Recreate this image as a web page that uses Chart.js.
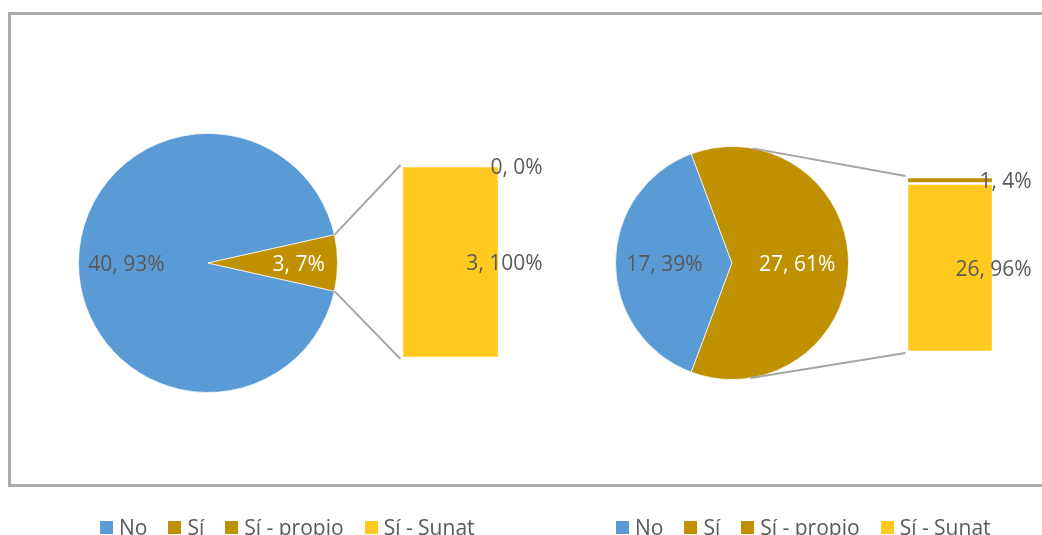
<!DOCTYPE html>
<html>
<head>
<meta charset="utf-8">
<script src="https://cdn.jsdelivr.net/npm/chart.js@4.4.1/dist/chart.umd.min.js"></script>
<style>
  body { margin: 0; background: #fff; width: 1042px; height: 535px; overflow: hidden; position: relative; font-family: "Open Sans", sans-serif; }
  #frame { position: absolute; left: 8px; top: 12px; width: 1100px; height: 469px; border: 3px solid #ababab; }
  canvas { position: absolute; left: 0; top: 0; }
  .legend { position: absolute; top: 513px; display: flex; align-items: center; font-size: 21px; color: #595959; white-space: nowrap; }
  .legend span.item { display: flex; align-items: center; margin-right: 21px; }
  .legend span.box { display: inline-block; width: 13px; height: 13px; margin-right: 6px; }
</style>
</head>
<body>
<div id="frame"></div>

<canvas id="leftPie" width="1042" height="535"></canvas>
<canvas id="leftBar" width="1042" height="535"></canvas>
<canvas id="rightPie" width="1042" height="535"></canvas>
<canvas id="rightBar" width="1042" height="535"></canvas>

<div class="legend" id="leftLegend" style="left:100px"></div>
<div class="legend" id="rightLegend" style="left:616px"></div>

<script>
/* ======================
   DATA
====================== */
const categories = ["No", "Sí", "Sí - propio", "Sí - Sunat"];
const colors = ["#5b9bd5", "#bf9000", "#bf9000", "#ffc91f"];

// pie: No, Sí  |  bar: Sí - propio, Sí - Sunat
const leftPieValues = [40, 3];
const leftBarValues = [0, 3];
const rightPieValues = [17, 27];
const rightBarValues = [1, 26];

const TEXT = "#595959";
const LINE = "#a6a6a6";
const FONT = '21px "Open Sans"';

/* ======================
   HELPERS
====================== */
function pct(v, list) {
  const total = list.reduce((a, b) => a + b, 0);
  return Math.round(v / total * 100);
}

function normAngle(a) {
  while (a > Math.PI) a -= 2 * Math.PI;
  while (a <= -Math.PI) a += 2 * Math.PI;
  return a;
}

/* ======================
   PIE LABELS
====================== */
const pieLabels = {
  id: "pieLabels",
  afterDatasetsDraw(chart, args, opts) {
    const ctx = chart.ctx;
    const values = chart.data.datasets[0].data;
    ctx.save();
    ctx.font = FONT;
    ctx.textAlign = "center";
    ctx.textBaseline = "middle";
    chart.getDatasetMeta(0).data.forEach((arc, i) => {
      const mid = (arc.startAngle + arc.endAngle) / 2;
      const r = arc.outerRadius * opts.radius[i];
      ctx.fillStyle = i === 1 ? "#fff" : TEXT;
      ctx.fillText(`${values[i]}, ${pct(values[i], values)}%`,
        arc.x + Math.cos(mid) * r, arc.y + Math.sin(mid) * r + 2);
    });
    ctx.restore();
  }
};

/* ======================
   BAR LABELS + CONNECTORS
====================== */
const barExtras = {
  id: "barExtras",
  afterDatasetsDraw(chart, args, opts) {
    const ctx = chart.ctx;
    const all = chart.data.datasets.map(d => d.data[0]);
    const bottom = chart.getDatasetMeta(0).data[0];
    const top = chart.getDatasetMeta(chart.data.datasets.length - 1).data[0];

    // connector lines from the "Sí" slice to the bar
    const arc = opts.pie.getDatasetMeta(0).data[1];
    const left = bottom.x - bottom.width / 2 - 1.5;
    const pTop = { x: left, y: top.y - 1 };
    const pBot = { x: left, y: bottom.base + 1 };
    const mid = normAngle((arc.startAngle + arc.endAngle) / 2);
    const half = (arc.endAngle - arc.startAngle) / 2;
    const r = arc.outerRadius;

    function edge(p, sign) {
      const dx = p.x - arc.x, dy = p.y - arc.y;
      const d = Math.sqrt(dx * dx + dy * dy);
      const tangent = Math.atan2(dy, dx) + sign * Math.acos(r / d);
      const side = mid + sign * half;
      return sign < 0 ? Math.max(side, tangent) : Math.min(side, tangent);
    }

    ctx.save();
    ctx.strokeStyle = LINE;
    ctx.lineWidth = 2;
    [[pTop, -1], [pBot, 1]].forEach(([p, sign]) => {
      const a = edge(p, sign);
      ctx.beginPath();
      ctx.moveTo(arc.x + Math.cos(a) * r, arc.y + Math.sin(a) * r);
      ctx.lineTo(p.x, p.y);
      ctx.stroke();
    });

    // value labels, right aligned beside the bar
    ctx.font = FONT;
    ctx.fillStyle = TEXT;
    ctx.textAlign = "right";
    ctx.textBaseline = "middle";
    chart.data.datasets.forEach((ds, i) => {
      const el = chart.getDatasetMeta(i).data[0];
      const v = ds.data[0];
      ctx.fillText(`${v}, ${pct(v, all)}%`,
        el.x + el.width / 2 + el.width * 0.45, (el.y + el.base) / 2 + 2);
    });
    ctx.restore();
  }
};

/* ======================
   PANELS
====================== */
function makePanel(prefix, pieValues, barValues, layout) {
  const pieSum = pieValues.reduce((a, b) => a + b, 0);
  // rotate so the "Sí" slice is centred on the right-hand side
  const siAngle = 360 * pieValues[1] / pieSum;

  const pie = new Chart(document.getElementById(prefix + "Pie"), {
    type: "pie",
    data: {
      labels: categories.slice(0, 2),
      datasets: [{
        data: pieValues,
        backgroundColor: colors.slice(0, 2),
        borderColor: "rgba(255,255,255,0.7)",
        borderWidth: 1
      }]
    },
    options: {
      responsive: false,
      animation: false,
      rotation: siAngle / 2 + 90,
      layout: { padding: layout.pie },
      plugins: {
        legend: { display: false },
        tooltip: { enabled: false },
        pieLabels: { radius: layout.labelRadius }
      }
    },
    plugins: [pieLabels]
  });

  const barSum = barValues.reduce((a, b) => a + b, 0);
  new Chart(document.getElementById(prefix + "Bar"), {
    type: "bar",
    data: {
      labels: [""],
      datasets: [
        { label: categories[3], data: [barValues[1]], backgroundColor: colors[3] },
        { label: categories[2], data: [barValues[0]], backgroundColor: colors[2] }
      ]
    },
    options: {
      responsive: false,
      animation: false,
      layout: { padding: layout.bar },
      datasets: {
        bar: {
          categoryPercentage: 1,
          barPercentage: 1,
          borderWidth: 1.5,
          borderColor: "#fff",
          borderSkipped: false
        }
      },
      scales: {
        x: { stacked: true, display: false },
        y: { stacked: true, display: false, min: 0, max: barSum }
      },
      plugins: {
        legend: { display: false },
        tooltip: { enabled: false },
        barExtras: { pie }
      }
    },
    plugins: [barExtras]
  });
}

makePanel("left", leftPieValues, leftBarValues, {
  pie: { left: 78, right: 704, top: 133, bottom: 142 },
  bar: { left: 402, right: 543, top: 166, bottom: 177 },
  labelRadius: [0.63, 0.7]
});

makePanel("right", rightPieValues, rightBarValues, {
  pie: { left: 615, right: 193, top: 146, bottom: 155 },
  bar: { left: 907, right: 49, top: 177, bottom: 183 },
  labelRadius: [0.58, 0.56]
});

/* ======================
   LEGENDS
====================== */
function buildLegend(id) {
  const el = document.getElementById(id);
  categories.forEach((name, i) => {
    const item = document.createElement("span");
    item.className = "item";
    const box = document.createElement("span");
    box.className = "box";
    box.style.background = colors[i];
    item.appendChild(box);
    item.appendChild(document.createTextNode(name));
    el.appendChild(item);
  });
}

buildLegend("leftLegend");
buildLegend("rightLegend");
</script>
</body>
</html>
